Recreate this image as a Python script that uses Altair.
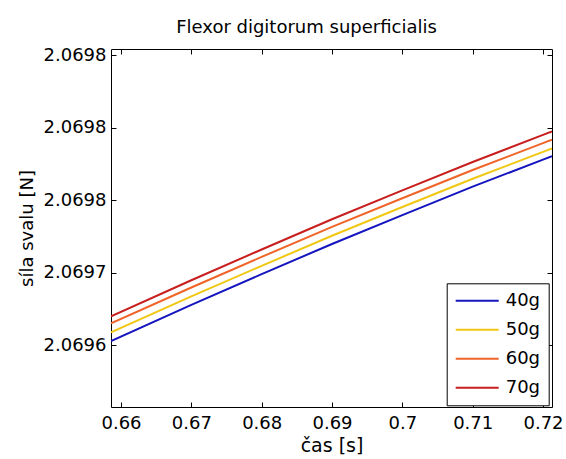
import altair as alt
import pandas as pd

# ---- data ----
time_s = [0.65858, 0.67, 0.68, 0.69, 0.70, 0.71, 0.72, 0.72128]
force_40g = [2.06965296, 2.06967789, 2.06969910, 2.06971990, 2.06973981, 2.06975937, 2.06977803, 2.06978037]
force_50g = [2.06965895, 2.06968376, 2.06970486, 2.06972555, 2.06974535, 2.06976480, 2.06978335, 2.06978567]
force_60g = [2.06966515, 2.06968991, 2.06971099, 2.06973164, 2.06975141, 2.06977082, 2.06978935, 2.06979166]
force_70g = [2.06966997, 2.06969490, 2.06971611, 2.06973691, 2.06975682, 2.06977638, 2.06979504, 2.06979738]
series_names = ["40g", "50g", "60g", "70g"]
series_colors = ["#1414c0", "#f0c814", "#f06428", "#c81e1e"]

x_ticks = [0.66, 0.67, 0.68, 0.69, 0.70, 0.71, 0.72]
y_ticks = [2.06965, 2.06970, 2.06975, 2.06980, 2.06985]
y_tick_labels = ["2.0696", "2.0697", "2.0698", "2.0698", "2.0698"]
x_domain = [0.65858, 0.72128]
y_domain = [2.0696076, 2.0698542]

rows = []
for name, vals in zip(series_names, [force_40g, force_50g, force_60g, force_70g]):
    for t, v in zip(time_s, vals):
        rows.append({"t": t, "F": v, "s": name})
df = pd.DataFrame(rows)

# label expression built from tick arrays
expr = "'" + y_tick_labels[-1] + "'"
for i in reversed(range(len(y_ticks) - 1)):
    mid = (y_ticks[i] + y_ticks[i + 1]) / 2
    expr = f"datum.value < {mid} ? '{y_tick_labels[i]}' : ({expr})"

FONT = "DejaVu Sans"
W, H = 441, 358

xs = alt.Scale(domain=x_domain, nice=False, zero=False)
ys = alt.Scale(domain=y_domain, nice=False, zero=False)

lines = alt.Chart(df).mark_line(strokeWidth=2, clip=True).encode(
    x=alt.X("t:Q", scale=xs, axis=alt.Axis(
        orient="bottom", values=x_ticks, format=".2~f", domain=False, grid=False,
        tickSize=5, offset=-5, tickColor="black", labelColor="black",
        labelFont=FONT, labelFontSize=18, labelBaseline="alphabetic", labelPadding=21,
        title="čas [s]", titleFont=FONT, titleFontSize=19, titleFontWeight="normal",
        titleColor="black", titleX=W / 2, titleY=49, titleBaseline="alphabetic",
        titleAlign="center")),
    y=alt.Y("F:Q", scale=ys, axis=alt.Axis(
        orient="left", values=y_ticks, labelExpr=expr, domain=False, grid=False,
        tickSize=5, offset=-5, tickColor="black", labelColor="black",
        labelFont=FONT, labelFontSize=18, labelPadding=5,
        title="síla svalu [N]", titleFont=FONT, titleFontSize=18, titleFontWeight="normal",
        titleColor="black", titleX=-84, titleY=H / 2, titleAngle=270,
        titleBaseline="alphabetic", titleAlign="center")),
    color=alt.Color("s:N", scale=alt.Scale(domain=series_names, range=series_colors),
                    legend=alt.Legend(
                        title=None, orient="none", legendX=335.7, legendY=234.3,
                        symbolType="M-1,0H4.06", symbolSize=289, symbolStrokeWidth=2,
                        labelOffset=32, padding=8, rowPadding=10,
                        strokeColor="black", fillColor="white", cornerRadius=0,
                        labelFont=FONT, labelFontSize=18, labelColor="black")),
)

frame_axes = alt.Chart(df).mark_line(opacity=0).encode(
    x=alt.X("t:Q", scale=xs, axis=alt.Axis(
        orient="top", values=x_ticks, labels=False, domain=False, grid=False,
        tickSize=5, offset=-5, tickColor="black", title=None)),
    y=alt.Y("F:Q", scale=ys, axis=alt.Axis(
        orient="right", values=y_ticks, labels=False, domain=False, grid=False,
        tickSize=5, offset=-5, tickColor="black", title=None)),
    detail="s:N",
)

chart = alt.layer(lines, frame_axes).resolve_axis(
    x="independent", y="independent"
).properties(
    width=W, height=H,
    autosize=alt.AutoSizeParams(type="none"),
    padding={"left": 111, "top": 49, "right": 14, "bottom": 52},
    title=alt.TitleParams(
        "Flexor digitorum superficialis", font=FONT, fontSize=18, fontWeight="normal",
        color="black", anchor="middle", dx=-25, offset=-5, baseline="alphabetic"),
    background="white",
).configure_view(stroke="black", strokeWidth=1)

chart.save("out.html", embed_options={"renderer": "svg", "actions": False})
